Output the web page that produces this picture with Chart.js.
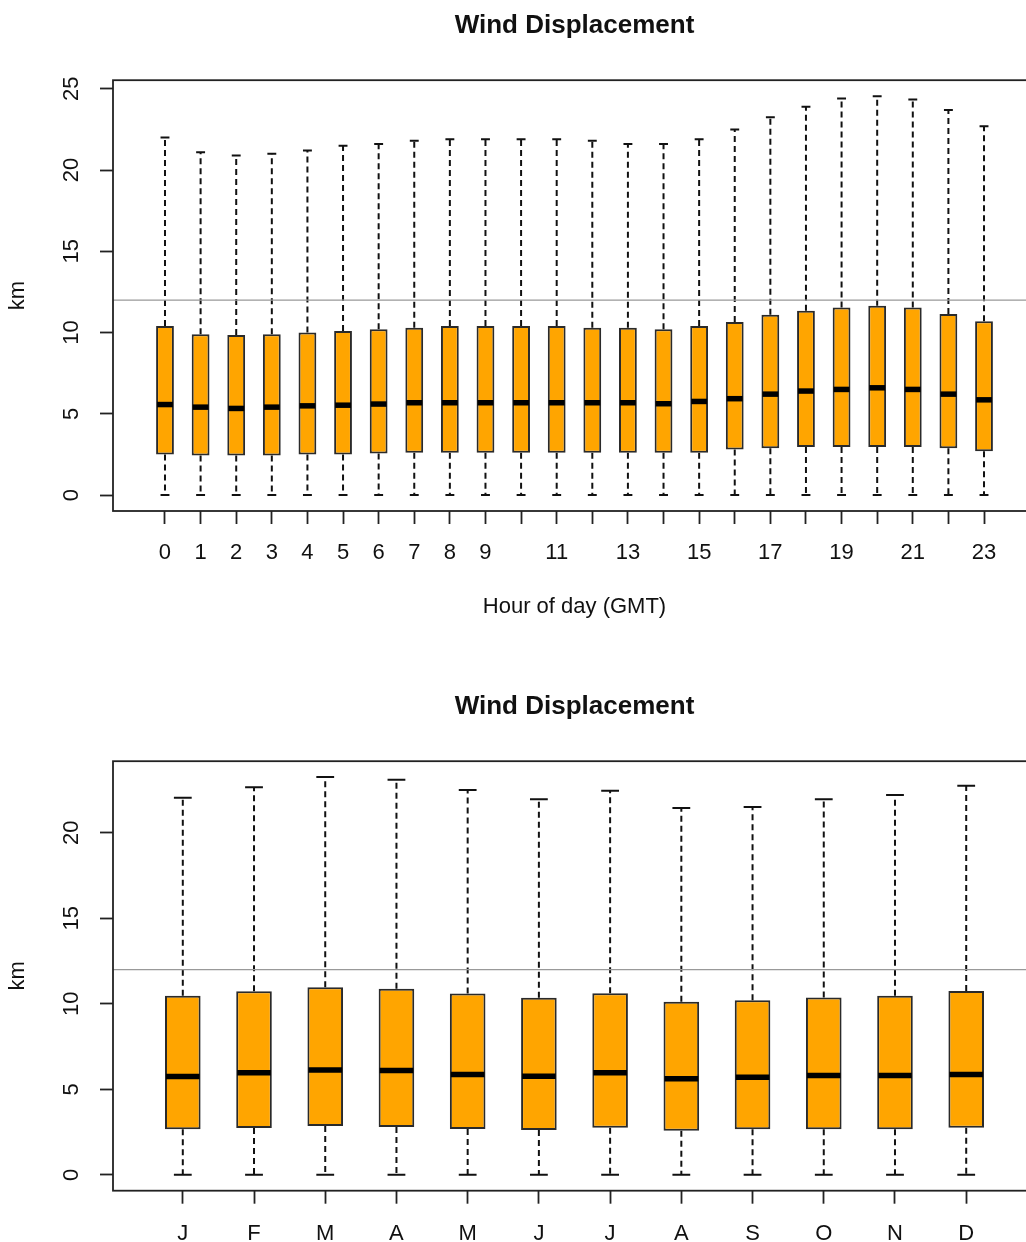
<!DOCTYPE html>
<html>
<head>
<meta charset="utf-8">
<title>Wind Displacement</title>
<script src="https://cdn.jsdelivr.net/npm/chart.js@4.4.1/dist/chart.umd.min.js"></script>
<style>
  html, body { margin: 0; padding: 0; background: #fff; overflow: hidden; width: 1026px; height: 1242px; }
  canvas { position: absolute; left: 0; }
  #hourChart { top: 0; }
  #monthChart { top: 630px; }
</style>
</head>
<body>
<canvas id="hourChart" width="1060" height="640"></canvas>
<canvas id="monthChart" width="1060" height="612"></canvas>
<script>
// hour of day (GMT)
const hours = [0, 1, 2, 3, 4, 5, 6, 7, 8, 9, 10, 11, 12, 13, 14, 15, 16, 17, 18, 19, 20, 21, 22, 23];
const hourTickLabels = ["0", "1", "2", "3", "4", "5", "6", "7", "8", "9", "", "11", "", "13", "", "15", "", "17", "", "19", "", "21", "", "23"];
const hourLow = [0, 0, 0, 0, 0, 0, 0, 0, 0, 0, 0, 0, 0, 0, 0, 0, 0, 0, 0, 0, 0, 0, 0, 0];
const hourQ1 = [2.5, 2.43, 2.43, 2.43, 2.5, 2.5, 2.55, 2.6, 2.6, 2.6, 2.6, 2.6, 2.6, 2.6, 2.6, 2.6, 2.8, 2.88, 2.96, 2.96, 2.96, 2.96, 2.88, 2.7];
const hourMedian = [5.57, 5.41, 5.33, 5.41, 5.49, 5.53, 5.6, 5.68, 5.68, 5.68, 5.68, 5.68, 5.68, 5.68, 5.62, 5.76, 5.93, 6.21, 6.4, 6.5, 6.6, 6.5, 6.21, 5.86];
const hourQ3 = [10.4, 9.9, 9.85, 9.9, 10.0, 10.1, 10.2, 10.3, 10.4, 10.4, 10.4, 10.4, 10.3, 10.3, 10.2, 10.4, 10.65, 11.1, 11.35, 11.55, 11.65, 11.55, 11.15, 10.7];
const hourHigh = [22.0, 21.1, 20.9, 21.0, 21.2, 21.5, 21.6, 21.8, 21.9, 21.9, 21.9, 21.9, 21.8, 21.6, 21.6, 21.9, 22.5, 23.25, 23.9, 24.4, 24.55, 24.35, 23.7, 22.7];

// month of year
const months = ["J", "F", "M", "A", "M", "J", "J", "A", "S", "O", "N", "D"];
const monthLow = [0, 0, 0, 0, 0, 0, 0, 0, 0, 0, 0, 0];
const monthQ1 = [2.66, 2.73, 2.85, 2.79, 2.67, 2.62, 2.75, 2.58, 2.66, 2.66, 2.66, 2.75];
const monthMedian = [5.74, 5.97, 6.12, 6.1, 5.87, 5.76, 5.97, 5.62, 5.7, 5.8, 5.8, 5.87];
const monthQ3 = [10.47, 10.73, 10.97, 10.87, 10.6, 10.35, 10.62, 10.12, 10.21, 10.37, 10.47, 10.74];
const monthHigh = [22.05, 22.65, 23.25, 23.1, 22.5, 21.95, 22.45, 21.45, 21.5, 21.95, 22.2, 22.75];

const kmTicks = [0, 5, 10, 15, 20, 25];
const refLine = 12;

Chart.defaults.font.family = '"Liberation Sans", Arial, sans-serif';
Chart.defaults.color = "#111";

// whiskers, medians, reference line, frame and rotated y labels (R boxplot look)
const boxPlotPlugin = {
  id: "boxPlot",

  beforeDatasetsDraw(chart) {
    const ctx = chart.ctx;
    const ds = chart.data.datasets[0];
    const y = chart.scales.y;
    const meta = chart.getDatasetMeta(0);

    ctx.save();
    ctx.strokeStyle = "#111";
    ctx.lineWidth = 2;
    meta.data.forEach((bar, i) => {
      const x = bar.x;
      const half = bar.width / 4;
      const yLo = y.getPixelForValue(ds.whiskerLow[i]);
      const yHi = y.getPixelForValue(ds.whiskerHigh[i]);
      const yQ1 = y.getPixelForValue(ds.data[i].y[0]);
      const yQ3 = y.getPixelForValue(ds.data[i].y[1]);

      ctx.setLineDash([6, 4]);
      ctx.beginPath();
      ctx.moveTo(x, yQ3);
      ctx.lineTo(x, yHi);
      ctx.moveTo(x, yQ1);
      ctx.lineTo(x, yLo);
      ctx.stroke();

      ctx.setLineDash([]);
      ctx.beginPath();
      ctx.moveTo(x - half, yHi);
      ctx.lineTo(x + half, yHi);
      ctx.moveTo(x - half, yLo);
      ctx.lineTo(x + half, yLo);
      ctx.stroke();
    });
    ctx.restore();
  },

  afterDatasetsDraw(chart) {
    const ctx = chart.ctx;
    const ds = chart.data.datasets[0];
    const y = chart.scales.y;
    const area = chart.chartArea;
    const meta = chart.getDatasetMeta(0);

    ctx.save();
    ctx.strokeStyle = "#000";
    ctx.lineWidth = 5.5;
    meta.data.forEach((bar, i) => {
      const yMed = y.getPixelForValue(ds.medians[i]);
      ctx.beginPath();
      ctx.moveTo(bar.x - bar.width / 2 + 1, yMed);
      ctx.lineTo(bar.x + bar.width / 2 - 1, yMed);
      ctx.stroke();
    });

    const yRef = y.getPixelForValue(refLine);
    ctx.strokeStyle = "#999";
    ctx.lineWidth = 1.2;
    ctx.beginPath();
    ctx.moveTo(area.left, yRef);
    ctx.lineTo(area.right, yRef);
    ctx.stroke();
    ctx.restore();
  },

  afterDraw(chart) {
    const ctx = chart.ctx;
    const area = chart.chartArea;
    const y = chart.scales.y;

    ctx.save();
    ctx.strokeStyle = "#222";
    ctx.lineWidth = 1.8;
    ctx.strokeRect(area.left, area.top, area.right - area.left, area.bottom - area.top);

    ctx.fillStyle = "#111";
    ctx.font = '22px "Liberation Sans", Arial, sans-serif';
    ctx.textAlign = "center";
    ctx.textBaseline = "middle";
    y.ticks.forEach(t => {
      ctx.save();
      ctx.translate(72, y.getPixelForValue(t.value));
      ctx.rotate(-Math.PI / 2);
      ctx.fillText(String(t.value), 0, 0);
      ctx.restore();
    });
    ctx.restore();
  }
};

function makeBoxChart(canvasId, s) {
  const n = s.labels.length;
  const lo = Math.min(...s.low);
  const hi = Math.max(...s.high);
  const yPad = (hi - lo) * 0.04;
  const yMin = lo - yPad;
  const yMax = hi + yPad;

  const ctx = document.getElementById(canvasId).getContext("2d");

  return new Chart(ctx, {
    type: "bar",
    data: {
      datasets: [{
        data: s.labels.map((_, i) => ({ x: i, y: [s.q1[i], s.q3[i]] })),
        whiskerLow: s.low,
        whiskerHigh: s.high,
        medians: s.median,
        backgroundColor: "#FFA500",
        borderColor: "#2a2a2a",
        borderWidth: 2,
        borderSkipped: false,
        barPercentage: 0.5,
        categoryPercentage: 1
      }]
    },
    options: {
      responsive: false,
      animation: false,
      layout: { padding: { left: 0, right: 24, top: 0, bottom: 0 } },
      plugins: {
        legend: { display: false },
        tooltip: { enabled: false },
        title: {
          display: true,
          text: "Wind Displacement",
          fullSize: false,
          color: "#111",
          font: { size: 26, weight: "bold" },
          padding: { top: s.titleTop, bottom: 39 }
        }
      },
      scales: {
        x: {
          type: "linear",
          min: -0.5 - 0.04 * n,
          max: n - 0.5 + 0.04 * n,
          offset: false,
          afterBuildTicks: scale => {
            scale.ticks = s.labels.map((_, i) => ({ value: i }));
          },
          afterFit: scale => {
            scale.height = s.xAxisHeight;
          },
          ticks: {
            autoSkip: false,
            maxRotation: 0,
            minRotation: 0,
            padding: s.tickPadding,
            font: { size: 22 },
            callback: v => s.tickLabels[v]
          },
          grid: { drawOnChartArea: false, offset: false, tickLength: 13, tickColor: "#222", tickWidth: 1.8 },
          border: { display: false },
          title: {
            display: !!s.xTitle,
            text: s.xTitle || "",
            font: { size: 22 },
            padding: { top: 0, bottom: 20 }
          }
        },
        y: {
          min: yMin,
          max: yMax,
          afterBuildTicks: scale => {
            scale.ticks = kmTicks.filter(v => v >= yMin && v <= yMax).map(v => ({ value: v }));
          },
          afterFit: scale => {
            scale.width = 113;
          },
          ticks: { display: false },
          grid: { drawOnChartArea: false, tickLength: 13, tickColor: "#222", tickWidth: 1.8 },
          border: { display: false },
          title: {
            display: true,
            text: "km",
            font: { size: 22 },
            padding: { top: 5, bottom: 0 }
          }
        }
      }
    },
    plugins: [boxPlotPlugin]
  });
}

makeBoxChart("hourChart", {
  labels: hours,
  tickLabels: hourTickLabels,
  low: hourLow,
  q1: hourQ1,
  median: hourMedian,
  q3: hourQ3,
  high: hourHigh,
  xTitle: "Hour of day (GMT)",
  titleTop: 10,
  xAxisHeight: 129,
  tickPadding: 16
});

makeBoxChart("monthChart", {
  labels: months,
  tickLabels: months,
  low: monthLow,
  q1: monthQ1,
  median: monthMedian,
  q3: monthQ3,
  high: monthHigh,
  xTitle: "",
  titleTop: 61,
  xAxisHeight: 51.3,
  tickPadding: 17
});
</script>
</body>
</html>
